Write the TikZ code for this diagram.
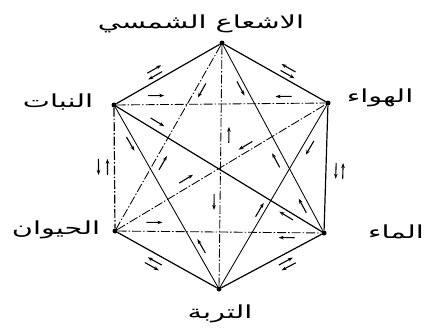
\documentclass[tikz,border=0pt]{standalone}
\usepackage{fontspec}
\usetikzlibrary{decorations.markings,arrows.meta}
\newfontfamily\arabicfont[Script=Arabic,FakeStretch=1.6]{DejaVu Sans}
\TeXXeTstate=1
\tikzset{
  vtx/.style={circle,fill=black,inner sep=0pt,minimum size=5pt},
  lab/.style={font=\arabicfont\fontsize{18}{21}\selectfont, inner sep=0pt},
  outerln/.style={line width=1.2pt},
  innerln/.style={line width=0.85pt},
  dd/.style={dash pattern=on 9pt off 2pt on 1.5pt off 2pt},
  arr/.style={solid,line width=1.1pt,-{Stealth[length=5pt,width=3.6pt]}},
  fw/.style n args={2}{postaction={decorate,decoration={markings,mark=at position #1 with {\draw[arr] (-8pt,#2pt) -- (8pt,#2pt);}}}},
  bw/.style n args={2}{postaction={decorate,decoration={markings,mark=at position #1 with {\draw[arr] (8pt,#2pt) -- (-8pt,#2pt);}}}},
}
\begin{document}
\begin{tikzpicture}[x=1pt,y=-1pt]
\useasboundingbox (0,0) rectangle (429,335);
% vertices
\node[vtx] (T)  at (222,43)  {};
\node[vtx] (UR) at (328,103) {};
\node[vtx] (LR) at (324,233) {};
\node[vtx] (B)  at (219,289) {};
\node[vtx] (LL) at (115,231) {};
\node[vtx] (UL) at (114,105) {};
% labels
\node[lab] (lT)  at (201,24)  {\beginR الاشعاع الشمسي\endR};
\node[lab] (lUR) at (380,98)  {\beginR الهواء\endR};
\node[lab] (lLR) at (396,232) {\beginR الماء\endR};
\node[lab] (lB)  at (220,314) {\beginR التربة\endR};
\node[lab] (lLL) at (56,230)  {\beginR الحيوان\endR};
\node[lab] (lUL) at (58,102)  {\beginR النبات\endR};
% hexagon edges
\draw[outerln, bw={0.58}{-11}, fw={0.6}{-5}] (T) -- (UL);
\draw[outerln, bw={0.58}{11}, fw={0.6}{5}] (T) -- (UR);
\draw[outerln, fw={0.52}{10}, bw={0.52}{17}] (UR) -- (LR);
\draw[outerln, fw={0.61}{-7}, bw={0.61}{-13}] (B) -- (LR);
\draw[outerln, fw={0.59}{7}, bw={0.59}{13}] (B) -- (LL);
\draw[outerln, dd, fw={0.49}{-16}, bw={0.49}{-7}] (UL) -- (LL);
% diagonals
\draw[innerln, dd, fw={0.19}{9}, bw={0.8}{7}] (UL) -- (UR);
\draw[innerln, dd, fw={0.18}{9}, bw={0.83}{-5}] (LL) -- (LR);
\draw[innerln, dd, fw={0.65}{-6}, bw={0.37}{8}] (T) -- (B);
\draw[innerln, dd, fw={0.23}{6}, bw={0.62}{8}] (T) -- (LL);
\draw[innerln, fw={0.22}{-5}, bw={0.6}{-8}, bw={0.85}{-6}] (T) -- (LR);
\draw[outerln, fw={0.18}{8}, bw={0.84}{-5}] (UL) -- (LR);
\draw[innerln, fw={0.19}{-5}, bw={0.79}{6}] (UL) -- (B);
\draw[innerln, dd, fw={0.35}{8}, bw={0.63}{6}] (LL) -- (UR);
\draw[innerln, fw={0.215}{7}, bw={0.59}{-5}] (UR) -- (B);
\end{tikzpicture}
\end{document}
